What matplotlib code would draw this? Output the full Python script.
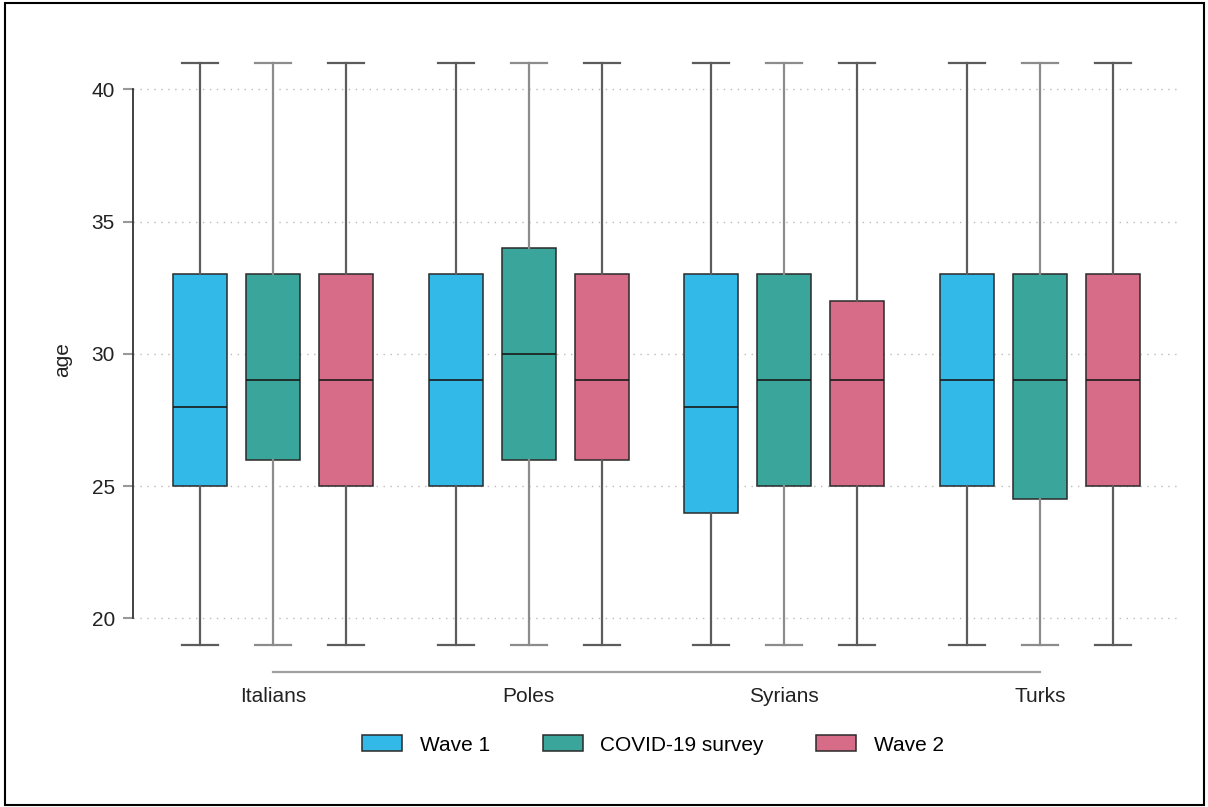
import matplotlib.pyplot as plt
from matplotlib.patches import Patch, Rectangle

plt.rcParams['font.family'] = ['Liberation Sans', 'DejaVu Sans']

groups = ['Italians', 'Poles', 'Syrians', 'Turks']
series = ['Wave 1', 'COVID-19 survey', 'Wave 2']
colors = ['#33b9e7', '#3aa69b', '#d66c87']
whisker_colors = ['#5c5c5c', '#8c8c8c', '#5c5c5c']

# quartiles per series, one value per group
q1 = {'Wave 1': [25, 25, 24, 25],
      'COVID-19 survey': [26, 26, 25, 24.5],
      'Wave 2': [25, 26, 25, 25]}
med = {'Wave 1': [28, 29, 28, 29],
       'COVID-19 survey': [29, 30, 29, 29],
       'Wave 2': [29, 29, 29, 29]}
q3 = {'Wave 1': [33, 33, 33, 33],
      'COVID-19 survey': [33, 34, 33, 33],
      'Wave 2': [33, 33, 32, 33]}
whislo = [19, 19, 19, 19]
whishi = [41, 41, 41, 41]

fig = plt.figure(figsize=(12.08, 8.07), dpi=100)
ax = fig.add_axes([133 / 1208, 1 - 672 / 807, (1180 - 133) / 1208, 625 / 807])

group_step = 3.5
for j, s in enumerate(series):
    stats = []
    pos = []
    for i in range(len(groups)):
        stats.append(dict(q1=q1[s][i], med=med[s][i], q3=q3[s][i],
                          whislo=whislo[i], whishi=whishi[i], fliers=[]))
        pos.append(i * group_step + (j - 1))
    ax.bxp(stats, positions=pos, widths=0.74, capwidths=0.49,
           showfliers=False, patch_artist=True,
           boxprops=dict(facecolor=colors[j], edgecolor='#2a2a2a', linewidth=1.1),
           medianprops=dict(color='#1a1a1a', linewidth=1.2),
           whiskerprops=dict(color=whisker_colors[j], linewidth=1.6),
           capprops=dict(color=whisker_colors[j], linewidth=1.6),
           zorder=3)

ax.set_xlim(-1.918, 12.42)
ax.set_ylim(17.97, 41.6)

ax.set_yticks([20, 25, 30, 35, 40])
ax.set_yticklabels(['20', '25', '30', '35', '40'])
ax.set_xticks([i * group_step for i in range(len(groups))])
ax.set_xticklabels(groups)
ax.tick_params(axis='x', length=0, pad=11, labelsize=15, labelcolor='#222222')
ax.tick_params(axis='y', length=7.2, width=1.5, color='#999999', pad=5.8,
               labelsize=15, labelcolor='#222222')

ax.yaxis.grid(True, linestyle=(0, (1, 4)), color='#bbbbbb', linewidth=1.0)
ax.set_axisbelow(True)

for side in ['top', 'right']:
    ax.spines[side].set_visible(False)
ax.spines['left'].set_bounds(20, 40)
ax.spines['left'].set_color('#333333')
ax.spines['left'].set_linewidth(1.3)
ax.spines['bottom'].set_bounds(0, 3 * group_step)
ax.spines['bottom'].set_color('#a0a0a0')
ax.spines['bottom'].set_linewidth(1.6)

ax.set_ylabel('age', fontsize=15, color='#222222', labelpad=14)

handles = [Patch(facecolor=c, edgecolor='#2a2a2a', linewidth=1.1) for c in colors]
fig.legend(handles, series, loc='center', bbox_to_anchor=(653 / 1208, 1 - 745 / 807),
           ncol=3, frameon=False, fontsize=15, handlelength=1.92, handleheight=0.77,
           handletextpad=0.82, columnspacing=2.55)

fig.patches.append(Rectangle((5 / 1208, 2 / 807), 1199 / 1208, 802 / 807,
                             transform=fig.transFigure, fill=False,
                             edgecolor='black', linewidth=1.5))

plt.savefig('out.png', dpi=100)
